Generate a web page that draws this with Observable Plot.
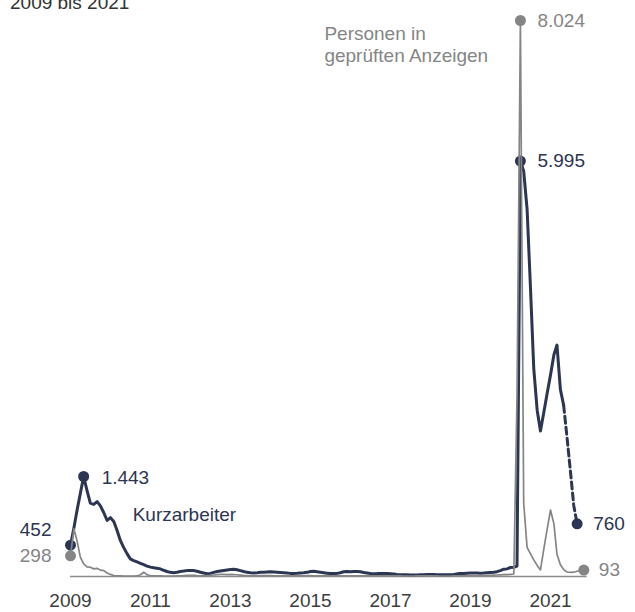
<!DOCTYPE html>
<html><head><meta charset="utf-8">
<script src="https://cdn.jsdelivr.net/npm/d3@7"></script>
<script src="https://cdn.jsdelivr.net/npm/@observablehq/plot@0.6"></script>
<style>
body{margin:0;background:#fff;font-family:"Liberation Sans",Arial,sans-serif;}
#wrap{position:relative;width:635px;height:612px;overflow:hidden;}
#sub{position:absolute;left:10px;top:-7px;font-size:19px;line-height:19px;color:#333;white-space:nowrap;}
#chart{position:absolute;left:0;top:0;}
</style></head><body>
<div id="wrap"><div id="chart"></div><div id="sub">2009 bis 2021</div></div>
<script>
// monthly values in thousands, starting January 2009
const startMonth = "2009-01";
const kurzarbeiter = [
  452, 700, 950, 1200, 1443, 1240, 1060, 1040, 1080, 1020, 920, 810,   // 2009
  850, 790, 670, 520, 420, 330, 255, 230, 210, 190, 170, 150,          // 2010
  135, 125, 118, 110, 90, 72, 60, 55, 62, 72, 78, 85,                  // 2011
  87, 85, 75, 62, 50, 40, 45, 60, 72, 80, 88, 95,                      // 2012
  100, 104, 98, 85, 72, 60, 53, 52, 55, 60, 63, 65,                    // 2013
  68, 66, 62, 58, 55, 50, 45, 45, 48, 52, 55, 60,                      // 2014
  72, 75, 70, 62, 55, 48, 42, 42, 45, 55, 68, 72,                      // 2015
  70, 72, 72, 68, 58, 50, 42, 40, 42, 45, 45, 42,                      // 2016
  38, 35, 30, 26, 25, 24, 22, 22, 23, 25, 26, 28,                      // 2017
  30, 28, 25, 24, 24, 24, 25, 30, 38, 42, 45, 48,                      // 2018
  50, 52, 50, 48, 50, 55, 58, 62, 70, 85, 105, 110,                    // 2019
  130, 134, 150, 5995, 5850, 5300, 4200, 3000, 2400, 2100, 2370, 2640, // 2020
  2910, 3200, 3340, 2700, 2470                                         // 2021 Jan-May
];
// projection (Hochrechnung), May-Sep 2021
const kurzarbeiterHochrechnungStart = "2021-05";
const kurzarbeiterHochrechnung = [2470, 2000, 1530, 1025, 760];
const anzeigen = [
  298, 688, 520, 280, 183, 140, 135, 110, 118, 92, 85, 50,   // 2009
  30, 14, 10, 8, 6, 5, 5, 5, 8, 25, 62, 25,                  // 2010
  12, 10, 8, 8, 6, 5, 5, 6, 8, 10, 12, 15,                   // 2011
  18, 15, 12, 10, 10, 12, 15, 22, 28, 30, 30, 28,            // 2012
  30, 28, 25, 20, 15, 12, 10, 10, 10, 12, 12, 12,            // 2013
  12, 11, 10, 9, 8, 8, 8, 8, 9, 10, 11, 12,                  // 2014
  12, 11, 10, 9, 8, 8, 8, 8, 9, 10, 11, 11,                  // 2015
  11, 10, 9, 9, 8, 8, 8, 8, 9, 9, 10, 10,                    // 2016
  10, 9, 8, 8, 7, 7, 7, 7, 8, 8, 9, 9,                       // 2017
  9, 8, 8, 7, 7, 7, 7, 8, 8, 9, 10, 11,                      // 2018
  12, 12, 13, 14, 15, 16, 18, 20, 22, 24, 26, 28,            // 2019
  32, 36, 2600, 8024, 1060, 420, 330, 240, 160, 95, 400, 680, // 2020
  960, 760, 320, 170, 100, 65, 60, 62, 75, 88, 93            // 2021 Jan-Nov
];
const tickYears = [2009, 2011, 2013, 2015, 2017, 2019, 2021];
const seriesNames = {kurz: "Kurzarbeiter", anz: "Personen in\ngeprüften Anzeigen"};

const navy = "#2c3552", grey = "#858585";
const parseM = d3.utcParse("%Y-%m");
const monthAt = (start, i) => d3.utcMonth.offset(parseM(start), i);
const K = kurzarbeiter.map((v, i) => ({date: monthAt(startMonth, i), value: v}));
const KH = kurzarbeiterHochrechnung.map((v, i) => ({date: monthAt(kurzarbeiterHochrechnungStart, i), value: v}));
const A = anzeigen.map((v, i) => ({date: monthAt(startMonth, i), value: v}));
const fmt = d3.formatLocale({decimal: ",", thousands: ".", grouping: [3], currency: ["", "€"]}).format(",d");

const kFirst = K[0];
const kPeak09 = d3.greatest(K.slice(0, 24), d => d.value);
const kPeak20 = d3.greatest(K, d => d.value);
const kLast = KH[KH.length - 1];
const aFirst = A[0];
const aPeak = d3.greatest(A, d => d.value);
const aLast = A[A.length - 1];

const navyDots = [kFirst, kPeak09, kPeak20, kLast];
const greyDots = [aFirst, aPeak, aLast];

const xStart = parseM(startMonth);
const xEnd = d3.utcYear.offset(d3.utcYear.floor(aLast.date), 1);
const axisEnd = d3.utcMonth.offset(xEnd, -1);

const chart = Plot.plot({
  width: 635, height: 612,
  marginLeft: 70, marginRight: 45, marginTop: 20, marginBottom: 36,
  x: {type: "utc", domain: [xStart, xEnd], label: null},
  y: {domain: [0, aPeak.value], axis: null},
  style: {fontFamily: "'Liberation Sans', Arial, sans-serif", fontSize: "19px", background: "transparent", overflow: "visible"},
  marks: [
    Plot.ruleY([0], {x1: xStart, x2: axisEnd, stroke: "#8c8c8c", strokeWidth: 1.5}),
    Plot.axisX(tickYears.map(y => new Date(Date.UTC(y, 0, 1))), {tickSize: 0, tickPadding: 17, tickFormat: d3.utcFormat("%Y"), fill: "#3d3d3d", fontSize: 19, label: null}),
    Plot.line(K, {x: "date", y: "value", stroke: navy, strokeWidth: 3, strokeLinejoin: "round"}),
    Plot.line(KH, {x: "date", y: "value", stroke: navy, strokeWidth: 3, strokeDasharray: "7,4"}),
    Plot.dot(navyDots, {x: "date", y: "value", r: 5.5, fill: navy}),
    Plot.line(A, {x: "date", y: "value", stroke: grey, strokeWidth: 1.7, strokeLinejoin: "round"}),
    Plot.dot(greyDots, {x: "date", y: "value", r: 5.5, fill: grey}),
    // value labels
    Plot.text([kFirst], {x: "date", y: "value", text: d => fmt(d.value), fill: navy, textAnchor: "end", dx: -19, dy: -15, fontSize: 19}),
    Plot.text([aFirst], {x: "date", y: "value", text: d => fmt(d.value), fill: grey, textAnchor: "end", dx: -19, dy: 0, fontSize: 19}),
    Plot.text([kPeak09], {x: "date", y: "value", text: d => fmt(d.value), fill: navy, textAnchor: "start", dx: 18, dy: 1, fontSize: 19}),
    Plot.text([kPeak20], {x: "date", y: "value", text: d => fmt(d.value), fill: navy, textAnchor: "start", dx: 17, dy: 0, fontSize: 19}),
    Plot.text([aPeak], {x: "date", y: "value", text: d => fmt(d.value), fill: grey, textAnchor: "start", dx: 17, dy: 0, fontSize: 19}),
    Plot.text([kLast], {x: "date", y: "value", text: d => fmt(d.value), fill: navy, textAnchor: "start", dx: 16, dy: 0, fontSize: 19}),
    Plot.text([aLast], {x: "date", y: "value", text: d => fmt(d.value), fill: grey, textAnchor: "start", dx: 15, dy: 0, fontSize: 19}),
    // series labels
    Plot.text([kPeak09], {x: "date", y: "value", text: () => seriesNames.kurz, fill: navy, textAnchor: "start", dx: 49, dy: 38, fontSize: 19}),
    Plot.text([aPeak], {x: "date", y: "value", text: () => seriesNames.anz, fill: grey, textAnchor: "start", lineAnchor: "middle", lineHeight: 1.16, dx: -196, dy: 23, fontSize: 19})
  ]
});
document.getElementById("chart").appendChild(chart);
</script>
</body></html>
